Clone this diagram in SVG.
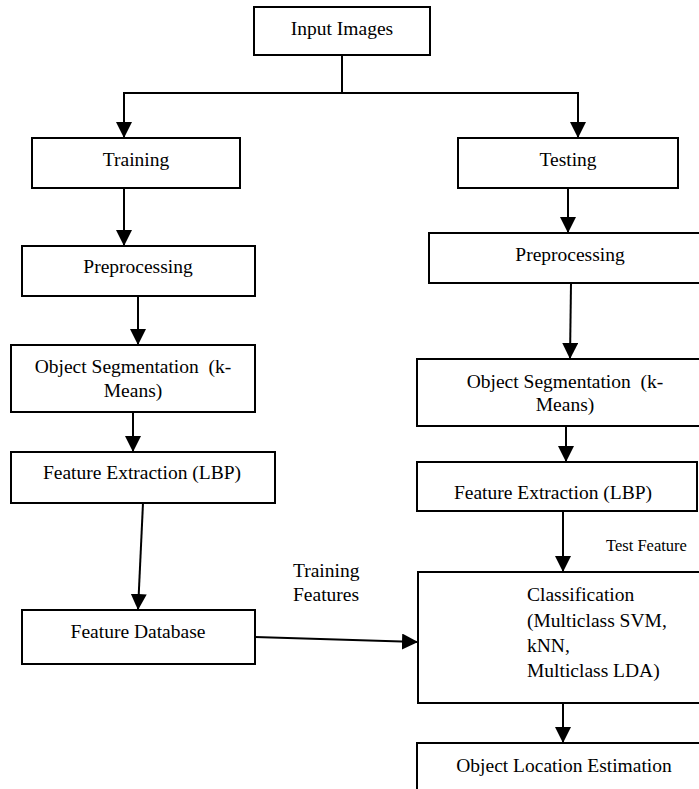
<svg xmlns="http://www.w3.org/2000/svg" width="699" height="789" viewBox="0 0 699 789">
<defs>
<style>
.box{fill:#fff;stroke:#000;stroke-width:2}
.t{font-family:"Liberation Serif","Times New Roman",serif;font-size:19.5px;fill:#000;white-space:pre}
.c{text-anchor:middle}
.small{font-size:16.5px}
.ln{stroke:#000;stroke-width:2;fill:none}
</style>
<marker id="ah" markerUnits="userSpaceOnUse" markerWidth="16" markerHeight="16" viewBox="0 0 14 14" refX="14" refY="7" orient="auto">
<path d="M0,0 L14,7 L0,14 Z" fill="#000"/>
</marker>
</defs>
<rect width="699" height="789" fill="#fff"/>
<g id="connectors">
<line class="ln" x1="342" y1="55" x2="342" y2="93"/>
<line class="ln" x1="123" y1="93" x2="579" y2="93"/>
<line class="ln" x1="124" y1="93" x2="124" y2="138" marker-end="url(#ah)"/>
<line class="ln" x1="578" y1="93" x2="578" y2="138" marker-end="url(#ah)"/>
<line class="ln" x1="124" y1="188" x2="124" y2="246" marker-end="url(#ah)"/>
<line class="ln" x1="568" y1="188" x2="568" y2="233" marker-end="url(#ah)"/>
<line class="ln" x1="138" y1="296" x2="138" y2="345" marker-end="url(#ah)"/>
<line class="ln" x1="571" y1="283" x2="570" y2="359" marker-end="url(#ah)"/>
<line class="ln" x1="133" y1="412" x2="133" y2="452" marker-end="url(#ah)"/>
<line class="ln" x1="566" y1="426" x2="566" y2="462" marker-end="url(#ah)"/>
<line class="ln" x1="143" y1="503" x2="138" y2="610" marker-end="url(#ah)"/>
<line class="ln" x1="563" y1="501" x2="563" y2="572" marker-end="url(#ah)"/>
<line class="ln" x1="255" y1="637" x2="418" y2="642" marker-end="url(#ah)"/>
<line class="ln" x1="563" y1="703" x2="563" y2="743" marker-end="url(#ah)"/>
</g>
<g id="input-images"><rect class="box" x="254" y="7" width="176" height="48"/><text class="t c" x="342" y="35">Input Images</text></g>
<g id="training"><rect class="box" x="32" y="138" width="208" height="50"/><text class="t c" x="136" y="166">Training</text></g>
<g id="testing"><rect class="box" x="458" y="138" width="220" height="50"/><text class="t c" x="568" y="166">Testing</text></g>
<g id="preproc-left"><rect class="box" x="22" y="246" width="233" height="50"/><text class="t c" x="138" y="273">Preprocessing</text></g>
<g id="preproc-right"><rect class="box" x="429" y="233" width="280" height="50"/><text class="t c" x="570" y="261">Preprocessing</text></g>
<g id="objseg-left"><rect class="box" x="11" y="345" width="244" height="67"/><text class="t c" x="133" y="373">Object Segmentation  (k-</text><text class="t c" x="133" y="397">Means)</text></g>
<g id="objseg-right"><rect class="box" x="417" y="359" width="292" height="67"/><text class="t c" x="565" y="388">Object Segmentation  (k-</text><text class="t c" x="565" y="411">Means)</text></g>
<g id="featext-left"><rect class="box" x="11" y="452" width="264" height="51"/><text class="t c" x="142" y="479">Feature Extraction (LBP)</text></g>
<g id="featext-right"><rect class="box" x="417" y="462" width="280" height="49"/><text class="t c" x="553" y="499">Feature Extraction (LBP)</text></g>
<g id="feature-database"><rect class="box" x="22" y="610" width="233" height="54"/><text class="t c" x="138" y="638">Feature Database</text></g>
<g id="training-features-label"><text class="t" x="293" y="577">Training</text><text class="t" x="293" y="601">Features</text></g>
<g id="test-feature-label"><text class="t small" x="606" y="551">Test Feature</text></g>
<g id="classification"><rect class="box" x="418" y="572" width="292" height="131"/><text class="t" x="527" y="601">Classification</text><text class="t" x="527" y="627">(Multiclass SVM,</text><text class="t" x="527" y="652">kNN,</text><text class="t" x="527" y="677">Multiclass LDA)</text></g>
<g id="object-location"><rect class="box" x="417" y="743" width="292" height="60"/><text class="t c" x="564" y="772">Object Location Estimation</text></g>
</svg>
